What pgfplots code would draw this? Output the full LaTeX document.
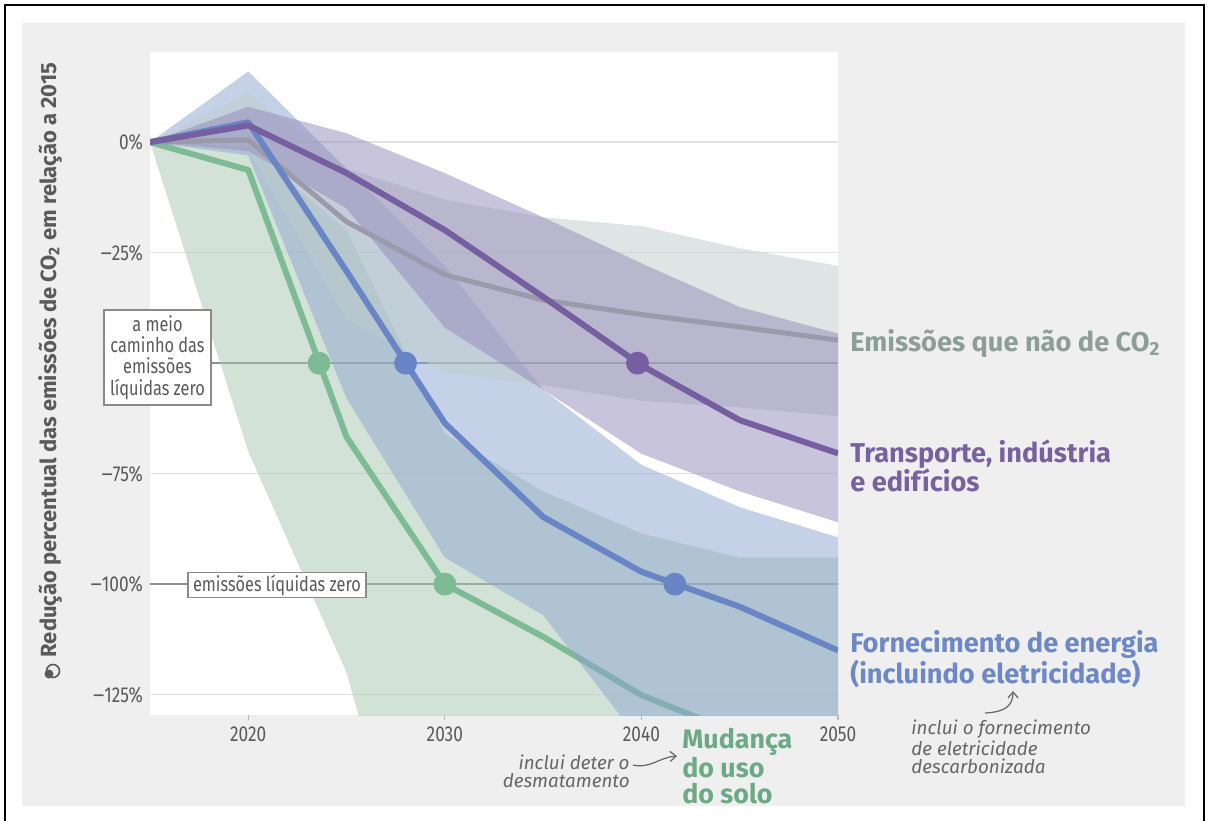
\documentclass[border=0pt]{standalone}
\usepackage{fontspec}
\setmainfont{Fira Sans}
\newfontfamily\condfont[FakeStretch=0.8]{Fira Sans}
\newfontfamily\widefont{Fira Sans}
\newcommand{\mns}{{\widefont –}}
\usepackage{pgfplots}
\pgfplotsset{compat=1.18}
\usetikzlibrary{arrows.meta}

\definecolor{panel}{HTML}{EFEFEF}
\definecolor{gridgrey}{HTML}{E3E3E3}
\definecolor{refgrey}{HTML}{8E9293}
\definecolor{tickgrey}{HTML}{5A5A5A}
\definecolor{tickmark}{HTML}{BBBBBB}
\definecolor{boxgrey}{HTML}{8A8A8A}
\definecolor{greenline}{HTML}{7CBB93}
\definecolor{blueline}{HTML}{6885C6}
\definecolor{purpleline}{HTML}{765FA0}
\definecolor{greyline}{HTML}{9A9AAA}
\definecolor{greenband}{HTML}{A9C7B0}
\definecolor{blueband}{HTML}{8DA5D1}
\definecolor{greyband}{HTML}{C0CCCB}
\definecolor{purpleband}{HTML}{928AB9}
\definecolor{greentext}{HTML}{6CAA86}
\definecolor{bluetext}{HTML}{6C88C6}
\definecolor{purpletext}{HTML}{77619F}
\definecolor{greytext}{HTML}{8C9E98}
\definecolor{notegrey}{HTML}{666666}

\begin{document}
\begin{tikzpicture}
% page and panel, in units of half a point
\begin{scope}[x=0.5pt,y=0.5pt]
\useasboundingbox (0,0) rectangle (1208,820);
\fill[white] (0,0) rectangle (1208,820);
\fill[panel] (22,14) rectangle (1185,797);
\draw[black, line width=1pt] (5,-5) -- (5,815) -- (1204,815) -- (1204,-5);
\end{scope}

\begin{axis}[
  at={(75pt,52.5pt)}, anchor=south west,
  scale only axis, width=344pt, height=331.5pt,
  xmin=2015, xmax=2050, ymin=-129.6, ymax=20.4,
  axis background/.style={fill=white},
  axis line style={draw=none},
  xtick={2020,2030,2040,2050},
  xticklabels={2020,2030,2040,2050},
  ytick={-125,-100,-75,-25,0},
  yticklabels={\mns125\%,\mns100\%,\mns75\%,\mns25\%,0\%},
  tick align=outside, major tick length=2.5pt,
  xtick pos=bottom, ytick pos=left,
  xtick style={draw=tickmark, line width=0.6pt},
  ytick style={draw=none},
  ymajorgrids, grid style={gridgrey, line width=0.75pt},
  ticklabel style={font=\condfont\fontsize{10.8}{12}\selectfont, text=tickgrey},
  yticklabel style={xshift=2.5pt},
]
% reference levels
\addplot[refgrey, line width=1.25pt] coordinates {(2015,-50) (2050,-50)};
\addplot[refgrey, line width=1.25pt] coordinates {(2015,-100) (2050,-100)};

% land-use change: range (upper edge, then lower edge back) and median
\addplot[fill=greenband, fill opacity=0.5, draw=none] coordinates {
  (2015,0) (2020,-1) (2025,-20) (2030,-66) (2035,-79) (2040,-88.5) (2045,-94) (2050,-94)
  (2050,-220) (2045,-220) (2040,-220) (2035,-220) (2030,-200) (2025,-120) (2020,-70) (2015,0)
} -- cycle;
\addplot[greenline, line width=3pt, line join=round] coordinates {
  (2015,0) (2020,-6.3) (2025,-66.7) (2030,-100) (2035,-111.9) (2040,-125.1) (2045,-134) (2050,-142)};

% energy supply range
\addplot[fill=blueband, fill opacity=0.5, draw=none] coordinates {
  (2015,0) (2020,16) (2025,-6) (2030,-28) (2035,-56) (2040,-73) (2045,-82.6) (2050,-89.4)
  (2050,-160) (2045,-160) (2040,-136) (2035,-107) (2030,-94) (2025,-58) (2020,-3) (2015,0)
} -- cycle;

% non-CO2 range
\addplot[fill=greyband, fill opacity=0.5, draw=none] coordinates {
  (2015,0) (2020,11) (2025,-6) (2030,-13) (2035,-17) (2040,-19) (2045,-24) (2050,-28)
  (2050,-62) (2045,-60) (2040,-58.5) (2035,-55) (2030,-52) (2025,-40) (2020,-2) (2015,0)
} -- cycle;

% transport, industry and buildings range
\addplot[fill=purpleband, fill opacity=0.5, draw=none] coordinates {
  (2015,0) (2020,8) (2025,2) (2030,-7) (2035,-17) (2040,-27.4) (2045,-37.3) (2050,-43.3)
  (2050,-86) (2045,-79) (2040,-70.5) (2035,-56) (2030,-42) (2025,-15) (2020,-2) (2015,0)
} -- cycle;

% medians
\addplot[greyline, line width=2.5pt, line join=round] coordinates {
  (2015,0) (2020,0.5) (2025,-18) (2030,-30) (2035,-35.7) (2040,-39) (2045,-41.8) (2050,-44.8)};
\addplot[blueline, line width=3pt, line join=round] coordinates {
  (2015,0) (2020,4.5) (2025,-29.2) (2030,-63.6) (2035,-84.8) (2040,-97.2) (2045,-105.1) (2050,-115)};
\addplot[purpleline, line width=3pt, line join=round] coordinates {
  (2015,0) (2020,3.8) (2025,-7) (2030,-19.9) (2035,-35) (2040,-50.5) (2045,-62.9) (2050,-70.4)};

% halfway and net-zero points
\addplot[only marks, mark=*, mark size=5.5pt, greenline] coordinates {(2023.6,-50) (2030,-100)};
\addplot[only marks, mark=*, mark size=5.5pt, blueline] coordinates {(2028.0,-50) (2041.7,-100)};
\addplot[only marks, mark=*, mark size=5.5pt, purpleline] coordinates {(2039.8,-50)};
\end{axis}

\begin{scope}[x=0.5pt,y=0.5pt]
% reference labels
\node[draw=boxgrey, fill=white, line width=0.6pt, align=center,
      minimum width=53.5pt, minimum height=47.5pt, inner sep=2pt, text=tickgrey,
      font=\condfont\fontsize{10.2}{10.6}\selectfont]
  at (157.5,462.5) {a meio\\caminho das\\emissões\\líquidas zero};
\node[draw=boxgrey, fill=white, line width=0.6pt, minimum width=89pt, minimum height=12pt,
      inner sep=1pt, text=tickgrey, font=\condfont\fontsize{10.2}{10.6}\selectfont]
  at (277,235) {emissões líquidas zero};

% y axis title with icon
\node[rotate=90, text=tickgrey, font=\bfseries\fontsize{11}{13}\selectfont]
  at (50,460) {Redução percentual das emissões de CO\textsubscript{2} em relação a 2015};
\draw[tickgrey, line width=0.8pt] (53,149) circle (6.5);
\fill[tickgrey] (49,146) circle (4.5);

% sector labels
\node[anchor=west, inner sep=0, text=greytext, font=\bfseries\fontsize{13.6}{15}\selectfont]
  at (850,477) {Emissões que não de CO\textsubscript{2}};
\node[anchor=west, inner sep=0, align=left, text=purpletext, font=\bfseries\fontsize{13.6}{14.5}\selectfont]
  at (850,354) {Transporte, indústria\\e edifícios};
\node[anchor=west, inner sep=0, align=left, text=bluetext, font=\bfseries\fontsize{13.6}{14}\selectfont]
  at (850,161) {Fornecimento de energia\\(incluindo eletricidade)};
\node[anchor=west, inner sep=0, align=left, text=greentext, font=\bfseries\fontsize{13.4}{13}\selectfont]
  at (682,54) {Mudança\\do uso\\do solo};

% notes
\node[anchor=east, inner sep=0, align=right, text=notegrey, font=\itshape\fontsize{9.4}{9}\selectfont]
  at (630,49) {inclui deter o\\desmatamento};
\draw[notegrey, line width=0.6pt, -{Straight Barb[length=3pt,width=5pt]}]
  (633,55) .. controls (650,51) and (660,63) .. (677,64);
\node[anchor=west, inner sep=0, align=left, text=notegrey, font=\itshape\fontsize{9.4}{9}\selectfont]
  at (911,73) {inclui o fornecimento\\de eletricidade\\descarbonizada};
\draw[notegrey, line width=0.6pt, -{Straight Barb[length=3pt,width=5pt]}]
  (985,107) .. controls (1005,108) and (1013,114) .. (1013,129);
\end{scope}
\end{tikzpicture}
\end{document}
